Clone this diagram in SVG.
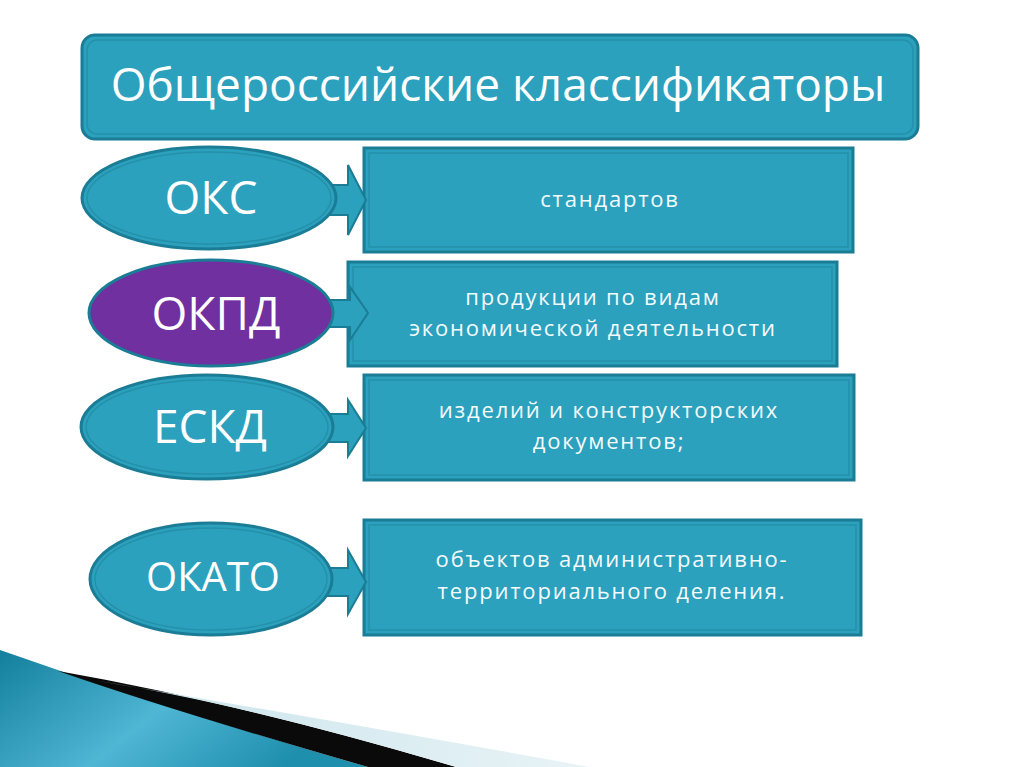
<svg xmlns="http://www.w3.org/2000/svg" width="1024" height="767" viewBox="0 0 1024 767">
<defs>
<linearGradient id="teal" x1="0" y1="0" x2="1" y2="0.4">
<stop offset="0" stop-color="#137f9c"/>
<stop offset="0.55" stop-color="#4fb6d4"/>
<stop offset="1" stop-color="#1f8fae"/>
</linearGradient>
<linearGradient id="light" x1="0" y1="0" x2="1" y2="0">
<stop offset="0" stop-color="#c9e4ec"/>
<stop offset="1" stop-color="#e8f3f6"/>
</linearGradient>
</defs>
<style>
.box{fill:#2ba1bd;stroke:#1b7c95;stroke-width:3}
.inner{fill:none;stroke:#2590aa;stroke-width:1.5}
.ell{fill:#2ba1bd;stroke:#1b7c95;stroke-width:3}
.arr{fill:#2ba1bd;stroke:#1b7c95;stroke-width:2;stroke-linejoin:miter}
.big{font-family:"Open Sans","Noto Sans","DejaVu Sans",sans-serif;fill:#ffffff;text-anchor:middle}
.small{font-family:"Open Sans","Noto Sans","DejaVu Sans",sans-serif;fill:#f4fbfd;text-anchor:middle;font-size:22px;letter-spacing:1.8px}
</style>
<rect width="1024" height="767" fill="#ffffff"/>
<g id="bottom-decor">
<path d="M0,650 Q170,710 368,767 L0,767 Z" fill="url(#teal)"/>
<path d="M58,671 Q240,703 456,767 L368,767 Q170,710 58,671 Z" fill="#0a0a0a"/>
<path d="M98,681 Q330,720 590,767 L456,767 Q240,703 98,681 Z" fill="url(#light)"/>
</g>
<g id="title">
<rect class="box" x="82" y="35" width="836" height="104" rx="13"/>
<rect class="inner" x="87" y="40" width="826" height="94" rx="10"/>
<text class="big" x="498" y="101" font-size="46">Общероссийские классификаторы</text>
</g>
<g id="r-oks">
<rect class="box" x="364" y="148" width="489" height="104"/>
<rect class="inner" x="369" y="153" width="479" height="94"/>
<text class="small" x="610" y="207">стандартов</text>
</g>
<g id="r-okpd">
<rect class="box" x="348" y="262" width="489" height="104"/>
<rect class="inner" x="353" y="267" width="479" height="94"/>
<text class="small" x="593" y="305">продукции по видам</text>
<text class="small" x="593" y="336">экономической деятельности</text>
</g>
<g id="r-eskd">
<rect class="box" x="364" y="375" width="490" height="105"/>
<rect class="inner" x="369" y="380" width="480" height="95"/>
<text class="small" x="609" y="418">изделий и конструкторских</text>
<text class="small" x="609" y="449">документов;</text>
</g>
<g id="r-okato">
<rect class="box" x="364" y="520" width="497" height="115"/>
<rect class="inner" x="369" y="525" width="487" height="105"/>
<text class="small" x="612" y="567">объектов административно-</text>
<text class="small" x="612" y="599">территориального деления.</text>
</g>
<g id="connectors">
<path class="arr" d="M330,185 H348 V165 L366,200 L348,235 V215 H330 Z"/>
<path class="arr" d="M328,300 H350 V287 L368,313 L350,340 V327 H328 Z"/>
<path class="arr" d="M328,414 H348 V400 L366,428 L348,456 V442 H328 Z"/>
<path class="arr" d="M326,568 H348 V550 L366,582 L348,614 V596 H326 Z"/>
</g>
<g id="e-oks">
<ellipse class="ell" cx="209" cy="198" rx="127" ry="51"/>
<ellipse class="inner" cx="209" cy="198" rx="122" ry="46"/>
<text class="big" x="211" y="214" font-size="46">ОКС</text>
</g>
<g id="e-okpd">
<ellipse class="ell" cx="211" cy="313" rx="122" ry="53" style="fill:#7030a0"/>
<text class="big" x="216" y="330" font-size="46">ОКПД</text>
</g>
<g id="e-eskd">
<ellipse class="ell" cx="207" cy="427" rx="126" ry="52"/>
<ellipse class="inner" cx="207" cy="427" rx="121" ry="47"/>
<text class="big" x="210" y="443" font-size="46">ЕСКД</text>
</g>
<g id="e-okato">
<ellipse class="ell" cx="211" cy="579" rx="121" ry="56"/>
<ellipse class="inner" cx="211" cy="579" rx="116" ry="51"/>
<text class="big" x="213" y="591" font-size="40">ОКАТО</text>
</g>
</svg>
